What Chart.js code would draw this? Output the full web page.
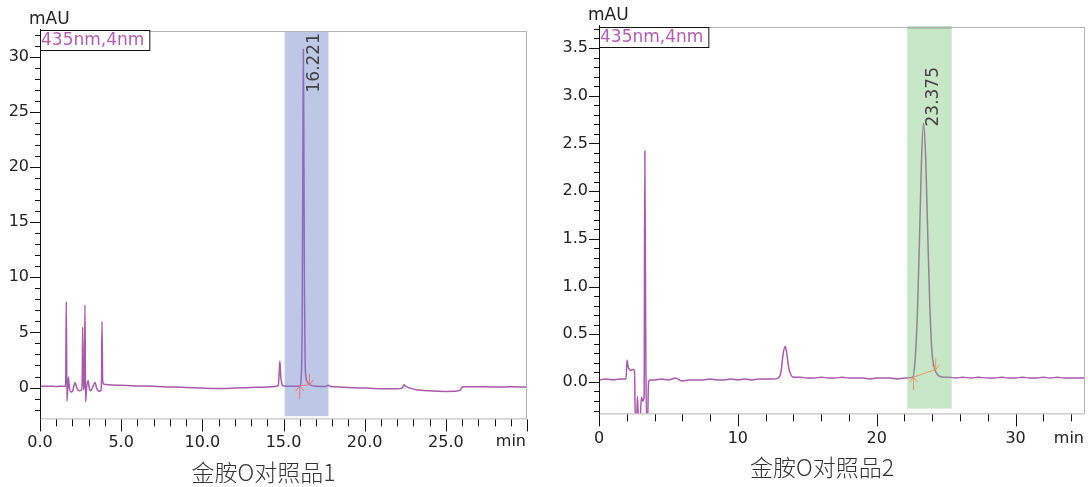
<!DOCTYPE html>
<html>
<head>
<meta charset="utf-8">
<script src="https://cdn.jsdelivr.net/npm/chart.js@4.4.1/dist/chart.umd.min.js"></script>
<style>
  body { margin: 0; background: #fff; width: 1088px; height: 487px; overflow: hidden; position: relative; }
  .wrap { position: absolute; top: 0; height: 487px; }
  #w1 { left: 0; width: 545px; }
  #w2 { left: 545px; width: 543px; }
</style>
</head>
<body>
<div class="wrap" id="w1"><canvas id="c1"></canvas></div>
<div class="wrap" id="w2"><canvas id="c2"></canvas></div>
<script>
// chromatogram 1 (min, mAU)
const t1 = [0, 0.5, 1.0, 1.5, 1.58, 1.62, 1.66, 1.70, 1.75, 1.80, 1.90, 2.00, 2.08, 2.16, 2.25, 2.36, 2.45, 2.55, 2.60, 2.63, 2.67, 2.73, 2.77, 2.81, 2.86, 2.96, 3.03, 3.12, 3.25, 3.39, 3.50, 3.63, 3.75, 3.79, 3.82, 3.86, 3.94, 4.2, 5, 6, 7, 8, 9, 10, 11, 12, 13, 14, 14.5, 14.68, 14.73, 14.78, 14.83, 14.9, 15.0, 15.5, 16.0, 16.1, 16.15, 16.19, 16.221, 16.25, 16.29, 16.33, 16.38, 16.45, 16.55, 16.7, 17.0, 17.6, 17.75, 17.9, 18.5, 19, 20, 21, 22, 22.3, 22.42, 22.55, 22.8, 23.2, 24, 25, 25.7, 25.9, 26.0, 26.2, 27, 28, 29, 30];
const v1 = [0.1, 0.12, 0.1, 0.12, 0.1, 7.8, -1.25, -0.3, 0.95, 0.1, -0.4, -0.35, 0.1, 0.45, 0.05, -0.25, -0.3, -0.2, 0.5, 5.5, -0.2, 0.2, 7.5, -1.3, -0.2, 0.65, 0.0, -0.3, 0.05, 0.45, -0.1, -0.35, -0.25, 0.8, 6.0, 0.6, 0.3, 0.25, 0.2, 0.15, 0.12, 0.05, 0.0, -0.05, -0.08, -0.05, 0.0, 0.05, 0.1, 0.2, 1.2, 2.4, 1.0, 0.3, 0.15, 0.12, 0.15, 1.2, 6, 20, 30.7, 24, 9, 2.5, 1.0, 0.55, 0.35, 0.2, 0.12, 0.1, 0.2, 0.1, 0.05, 0.0, -0.05, -0.1, -0.1, -0.05, 0.25, 0.1, -0.05, -0.2, -0.3, -0.35, -0.32, -0.2, 0.05, 0.08, 0.07, 0.05, 0.07, 0.05];
const band1 = [15.07, 17.77];
const marks1 = [[16.0, 0.15], [16.6, 0.25]];
const peak1 = [16.221, '16.221'];
const xTickVals1 = [0, 5, 10, 15, 20, 25];
const xTickText1 = ['0.0', '5.0', '10.0', '15.0', '20.0', '25.0'];
const yTickVals1 = [0, 5, 10, 15, 20, 25, 30];

// chromatogram 2
const t2 = [0, 0.5, 1.0, 1.5, 1.95, 2.02, 2.1, 2.3, 2.45, 2.56, 2.62, 2.7, 2.77, 2.85, 2.95, 3.06, 3.15, 3.25, 3.3, 3.36, 3.42, 3.5, 3.57, 3.7, 4.0, 4.5, 5.0, 5.5, 6.0, 6.5, 7.0, 7.5, 8.0, 8.5, 9.0, 9.5, 10.0, 10.5, 11.0, 11.5, 12.0, 12.5, 12.9, 13.1, 13.25, 13.4, 13.5, 13.65, 13.8, 14.0, 14.5, 15.0, 15.5, 16.0, 16.5, 17.0, 17.5, 18.0, 18.5, 19.0, 19.5, 20.0, 20.5, 21.0, 21.5, 22.0, 22.6, 22.775, 22.925, 23.075, 23.225, 23.375, 23.525, 23.675, 23.825, 23.975, 24.125, 24.275, 24.5, 24.8, 25.2, 25.7, 26.2, 26.8, 27.3, 28.0, 28.5, 29.0, 29.5, 30.0, 30.5, 31.0, 31.5, 32.0, 32.5, 33.0, 33.5, 34.0, 34.5, 35.0];
const v2 = [0.02, 0.03, 0.02, 0.03, 0.03, 0.23, 0.16, 0.12, 0.13, 0.11, -0.45, -0.45, -0.15, -0.45, -0.42, -0.16, -0.2, -0.16, 2.42, 0.6, -0.45, -0.4, 0.0, 0.02, 0.02, 0.03, 0.02, 0.04, 0.01, 0.02, 0.02, 0.02, 0.03, 0.02, 0.02, 0.03, 0.02, 0.03, 0.02, 0.03, 0.03, 0.03, 0.04, 0.1, 0.28, 0.37, 0.32, 0.16, 0.08, 0.05, 0.05, 0.04, 0.04, 0.05, 0.04, 0.04, 0.05, 0.04, 0.04, 0.04, 0.03, 0.04, 0.04, 0.04, 0.03, 0.04, 0.05, 0.25, 0.7, 1.46, 2.32, 2.71, 2.35, 1.55, 0.8, 0.32, 0.16, 0.1, 0.06, 0.05, 0.05, 0.04, 0.05, 0.04, 0.05, 0.04, 0.04, 0.05, 0.04, 0.04, 0.05, 0.04, 0.04, 0.05, 0.04, 0.05, 0.04, 0.04, 0.04, 0.04];
const band2 = [22.2, 25.4];
const marks2 = [[22.65, 0.05], [24.25, 0.13]];
const peak2 = [23.375, '23.375'];
const xTickVals2 = [0, 10, 20, 30];
const xTickText2 = ['0', '10', '20', '30'];
const yTickVals2 = [0, 0.5, 1, 1.5, 2, 2.5, 3, 3.5];

const FONT = "'DejaVu Sans', 'Liberation Sans', Arial, sans-serif";
const LINE = '#a75aab';

function isMajor(v, list) {
    return list.some((m) => Math.abs(m - v) < 1e-6);
}

// draws frame, ticks, band, integration marks and labels
const chromPlugin = {
    id: 'chrom',
    afterDatasetsDraw(chart, args, o) {
        const { ctx, chartArea: a } = chart;
        const x = chart.scales.x, y = chart.scales.y;
        ctx.save();
        // peak window
        const bx1 = x.getPixelForValue(o.band[0]);
        const bx2 = x.getPixelForValue(o.band[1]);
        const btop = a.top + o.bandInset;
        const bbot = y.getPixelForValue(o.bandBottom);
        ctx.fillStyle = o.bandColor;
        ctx.fillRect(bx1, btop, bx2 - bx1, bbot - btop);
        if (o.bandEdge) {
            ctx.strokeStyle = o.bandEdge;
            ctx.lineWidth = 1.5;
            ctx.beginPath();
            ctx.moveTo(bx1, a.top + 0.5);
            ctx.lineTo(bx2, a.top + 0.5);
            ctx.stroke();
        }
        // baseline start / end
        const p1 = [x.getPixelForValue(o.marks[0][0]), y.getPixelForValue(o.marks[0][1])];
        const p2 = [x.getPixelForValue(o.marks[1][0]), y.getPixelForValue(o.marks[1][1])];
        ctx.strokeStyle = o.markColor;
        ctx.lineWidth = 1;
        ctx.beginPath();
        ctx.moveTo(p1[0], p1[1]);
        ctx.lineTo(p2[0], p2[1]);
        // up arrow under start
        ctx.moveTo(p1[0], p1[1]);
        ctx.lineTo(p1[0], p1[1] + 13);
        ctx.moveTo(p1[0] - 4, p1[1] + 5);
        ctx.lineTo(p1[0], p1[1]);
        ctx.lineTo(p1[0] + 4, p1[1] + 5);
        // down arrow over end
        ctx.moveTo(p2[0], p2[1]);
        ctx.lineTo(p2[0], p2[1] - 11);
        ctx.moveTo(p2[0] - 4, p2[1] - 5);
        ctx.lineTo(p2[0], p2[1]);
        ctx.lineTo(p2[0] + 4, p2[1] - 5);
        ctx.stroke();
        // retention time label
        ctx.translate(x.getPixelForValue(o.peak[0]) + o.labelDx, o.labelTop);
        ctx.rotate(-Math.PI / 2);
        ctx.fillStyle = '#444';
        ctx.font = '17px ' + FONT;
        ctx.textAlign = 'right';
        ctx.textBaseline = 'middle';
        ctx.fillText(o.peak[1], 0, 0);
        ctx.restore();
    },
    afterDraw(chart, args, o) {
        const { ctx, chartArea: a } = chart;
        const x = chart.scales.x, y = chart.scales.y;
        ctx.save();
        // frame
        ctx.strokeStyle = '#b4b4b4';
        ctx.lineWidth = 1;
        ctx.beginPath();
        ctx.moveTo(a.left, a.top + 0.5);
        ctx.lineTo(a.right - 0.5, a.top + 0.5);
        ctx.lineTo(a.right - 0.5, a.bottom + 0.5);
        ctx.lineTo(a.left, a.bottom + 0.5);
        ctx.stroke();
        // axes ticks
        ctx.strokeStyle = '#111';
        ctx.beginPath();
        ctx.moveTo(a.left + 0.5, a.top - 2);
        ctx.lineTo(a.left + 0.5, a.bottom + 1);
        y.ticks.forEach((t) => {
            const py = Math.round(y.getPixelForValue(t.value)) + 0.5;
            const len = isMajor(t.value, o.yMajor) ? 10 : 5;
            ctx.moveTo(a.left - len, py);
            ctx.lineTo(a.left + 0.5, py);
        });
        x.ticks.forEach((t) => {
            const px = Math.round(x.getPixelForValue(t.value)) + 0.5;
            const len = isMajor(t.value, o.xMajor) ? 12 : 7;
            ctx.moveTo(px, a.bottom + 1);
            ctx.lineTo(px, a.bottom + 1 + len);
        });
        ctx.stroke();
        // units
        ctx.fillStyle = '#222';
        ctx.font = '17px ' + FONT;
        ctx.textAlign = 'left';
        ctx.textBaseline = 'middle';
        ctx.fillText('mAU', a.left - 11, a.top - 11);
        ctx.font = '16px ' + FONT;
        ctx.textAlign = 'right';
        ctx.fillText('min', a.right - 1, a.bottom + o.minDy);
        // channel box
        ctx.font = '17px ' + FONT;
        ctx.textAlign = 'left';
        const w = ctx.measureText(o.channel).width + 6;
        ctx.fillStyle = '#fff';
        ctx.fillRect(a.left, a.top + o.boxDy, w, 20);
        ctx.strokeStyle = '#111';
        ctx.strokeRect(a.left + 0.5, a.top + o.boxDy + 0.5, w, 20);
        ctx.fillStyle = '#b25cb3';
        ctx.fillText(o.channel, a.left + 1, a.top + o.boxDy + 10.5);
        ctx.restore();
    }
};

function makeChart(id, times, values, cfg) {
    const ctx = document.getElementById(id).getContext('2d');
    return new Chart(ctx, {
        type: 'line',
        data: {
            datasets: [{
                data: times.map((t, i) => ({ x: t, y: values[i] })),
                borderColor: LINE,
                borderWidth: 1.5,
                pointRadius: 0,
                cubicInterpolationMode: 'monotone',
                fill: false,
            }],
        },
        plugins: [chromPlugin],
        options: {
            responsive: true,
            maintainAspectRatio: false,
            animation: false,
            events: [],
            layout: { padding: cfg.padding },
            scales: {
                x: {
                    type: 'linear',
                    min: cfg.xMin, max: cfg.xMax,
                    grid: { display: false, drawTicks: false },
                    border: { display: false },
                    ticks: {
                        stepSize: cfg.xStep,
                        autoSkip: false,
                        includeBounds: false,
                        maxRotation: 0,
                        padding: cfg.xPad,
                        color: '#222',
                        font: { family: FONT, size: 16 },
                        callback: (v) => {
                            const k = cfg.xTickVals.findIndex((m) => Math.abs(m - v) < 1e-6);
                            return k >= 0 ? cfg.xTickText[k] : '';
                        },
                    },
                    afterFit: (s) => { s.height = 30; },
                },
                y: {
                    min: cfg.yMin, max: cfg.yMax,
                    grid: { display: false, drawTicks: false },
                    border: { display: false },
                    ticks: {
                        stepSize: cfg.yStep,
                        autoSkip: false,
                        includeBounds: false,
                        padding: 11,
                        color: '#222',
                        font: { family: FONT, size: 16 },
                        callback: (v) => isMajor(v, cfg.yTickVals) ? cfg.yFmt(v) : '',
                    },
                    afterFit: (s) => { s.width = 40; },
                },
            },
            plugins: {
                legend: { display: false },
                tooltip: { enabled: false },
                title: {
                    display: true,
                    position: 'bottom',
                    text: cfg.title,
                    color: '#333',
                    font: { family: "'Noto Sans CJK SC', sans-serif", size: 23, weight: 300 },
                    padding: { top: 10, bottom: 0 },
                },
                chrom: cfg.chrom,
            },
        },
    });
}

makeChart('c1', t1, v1, {
    title: '金胺O对照品1',
    padding: { left: 0, right: 18, top: 31, bottom: 1 },
    xMin: 0, xMax: 30, xStep: 1, xPad: 15, xTickVals: xTickVals1, xTickText: xTickText1,
    yMin: -2.8, yMax: 32.35, yStep: 1, yTickVals: yTickVals1, yFmt: (v) => String(v),
    chrom: {
        band: band1, bandBottom: -2.6, bandInset: 1, bandColor: 'rgba(110, 133, 199, 0.45)', bandEdge: null,
        marks: marks1, markColor: '#e5767a',
        peak: peak1, labelDx: 11, labelTop: 33,
        xMajor: xTickVals1.concat([30]), yMajor: yTickVals1,
        channel: '435nm,4nm', boxDy: -1, minDy: 23,
    },
});

makeChart('c2', t2, v2, {
    title: '金胺O对照品2',
    padding: { left: 14, right: 3, top: 27, bottom: 6 },
    xMin: 0, xMax: 35, xStep: 2, xPad: 16, xTickVals: xTickVals2, xTickText: xTickText2,
    yMin: -0.33, yMax: 3.72, yStep: 0.1, yTickVals: yTickVals2, yFmt: (v) => v.toFixed(1),
    chrom: {
        band: band2, bandBottom: -0.28, bandInset: 0, bandColor: 'rgba(118, 192, 118, 0.4)', bandEdge: '#2f6b34',
        marks: marks2, markColor: '#e8956b',
        peak: peak2, labelDx: 10, labelTop: 67,
        xMajor: xTickVals2, yMajor: yTickVals2,
        channel: '435nm,4nm', boxDy: 0, minDy: 25,
    },
});
</script>
</body>
</html>
